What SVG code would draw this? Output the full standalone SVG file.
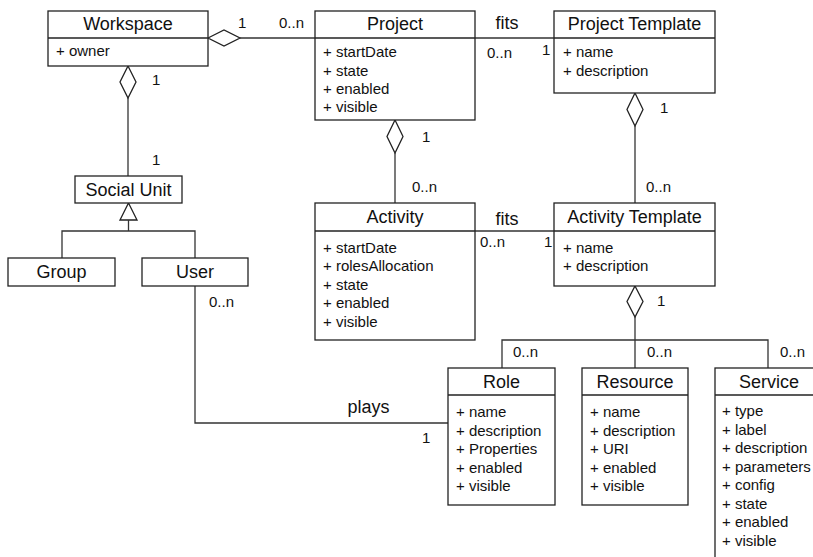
<svg xmlns="http://www.w3.org/2000/svg" width="813" height="557" viewBox="0 0 813 557">
  <style>
    .box { fill: #fff; stroke: #222; stroke-width: 1.3; }
    .div { stroke: #222; stroke-width: 1.3; }
    .ln { fill: none; stroke: #333; stroke-width: 1.3; }
    .dia { fill: #fff; stroke: #222; stroke-width: 1.3; }
    .title { font-family: "Liberation Sans", Arial, sans-serif; font-size: 18px; fill: #111; text-anchor: middle; }
    .attr { font-family: "Liberation Sans", Arial, sans-serif; font-size: 15px; fill: #111; }
    .lbl { font-family: "Liberation Sans", Arial, sans-serif; font-size: 15px; fill: #111; }
    .big { font-family: "Liberation Sans", Arial, sans-serif; font-size: 18px; fill: #111; text-anchor: middle; }
  </style>
  <rect width="813" height="557" fill="#fff"/>

  <!-- connectors -->
  <g id="connectors">
    <!-- Workspace 1 — 0..n Project -->
    <polygon class="dia" points="208,38 224,30 240,38 224,46"/>
    <line class="ln" x1="240" y1="38" x2="315" y2="38"/>
    <text class="lbl" x="238" y="28">1</text>
    <text class="lbl" x="279" y="28">0..n</text>

    <!-- Project fits Project Template -->
    <line class="ln" x1="475" y1="38" x2="554" y2="38"/>
    <text class="big" x="507" y="29">fits</text>
    <text class="lbl" x="487" y="58">0..n</text>
    <text class="lbl" x="542" y="55">1</text>

    <!-- Project 1 — 0..n Activity -->
    <polygon class="dia" points="395,120 403,136.5 395,153 387,136.5"/>
    <line class="ln" x1="395" y1="153" x2="395" y2="203"/>
    <text class="lbl" x="422" y="142">1</text>
    <text class="lbl" x="412" y="192">0..n</text>

    <!-- Project Template 1 — 0..n Activity Template -->
    <polygon class="dia" points="635,93 643,109.5 635,126 627,109.5"/>
    <line class="ln" x1="635" y1="126" x2="635" y2="203"/>
    <text class="lbl" x="660" y="113">1</text>
    <text class="lbl" x="646" y="192">0..n</text>

    <!-- Activity fits Activity Template -->
    <line class="ln" x1="475" y1="231" x2="554" y2="231"/>
    <text class="big" x="507" y="225">fits</text>
    <text class="lbl" x="480" y="247">0..n</text>
    <text class="lbl" x="544" y="247">1</text>

    <!-- Workspace 1 — 1 Social Unit -->
    <polygon class="dia" points="128,66 136,82 128,98 120,82"/>
    <line class="ln" x1="128" y1="98" x2="128" y2="176"/>
    <text class="lbl" x="152" y="85">1</text>
    <text class="lbl" x="152" y="165">1</text>

    <!-- generalization: Group, User → Social Unit -->
    <polygon class="dia" points="128.5,203 137,220 120,220"/>
    <line class="ln" x1="128.5" y1="220" x2="128.5" y2="231"/>
    <polyline class="ln" points="62,258 62,231 195,231 195,258"/>

    <!-- Activity Template 1 — 0..n Role / Resource / Service -->
    <polygon class="dia" points="635,286 643,301.5 635,317 627,301.5"/>
    <line class="ln" x1="635" y1="317" x2="635" y2="368"/>
    <polyline class="ln" points="502,368 502,340 768,340 768,368"/>
    <text class="lbl" x="657" y="306">1</text>
    <text class="lbl" x="513" y="357">0..n</text>
    <text class="lbl" x="647" y="357">0..n</text>
    <text class="lbl" x="780" y="357">0..n</text>

    <!-- User plays Role -->
    <polyline class="ln" points="195,286 195,423 448,423"/>
    <text class="lbl" x="209" y="307">0..n</text>
    <text class="big" x="368.5" y="413">plays</text>
    <text class="lbl" x="422" y="443">1</text>
  </g>

  <!-- nodes -->
  <g id="workspace">
    <rect class="box" x="48" y="11" width="160" height="55"/>
    <line class="div" x1="48" y1="38" x2="208" y2="38"/>
    <text class="title" x="128" y="30">Workspace</text>
    <text class="attr" x="56" y="56">+ owner</text>
  </g>

  <g id="project">
    <rect class="box" x="315" y="11" width="160" height="109"/>
    <line class="div" x1="315" y1="38" x2="475" y2="38"/>
    <text class="title" x="395" y="30">Project</text>
    <text class="attr" x="323" y="57">+ startDate</text>
    <text class="attr" x="323" y="75.5">+ state</text>
    <text class="attr" x="323" y="94">+ enabled</text>
    <text class="attr" x="323" y="112">+ visible</text>
  </g>

  <g id="project-template">
    <rect class="box" x="554" y="11" width="161" height="82"/>
    <line class="div" x1="554" y1="38" x2="715" y2="38"/>
    <text class="title" x="634.5" y="30">Project Template</text>
    <text class="attr" x="563" y="57">+ name</text>
    <text class="attr" x="563" y="75.5">+ description</text>
  </g>

  <g id="activity">
    <rect class="box" x="315" y="203" width="160" height="137"/>
    <line class="div" x1="315" y1="231" x2="475" y2="231"/>
    <text class="title" x="395" y="223">Activity</text>
    <text class="attr" x="323" y="252.5">+ startDate</text>
    <text class="attr" x="323" y="271">+ rolesAllocation</text>
    <text class="attr" x="323" y="289.5">+ state</text>
    <text class="attr" x="323" y="308">+ enabled</text>
    <text class="attr" x="323" y="326.5">+ visible</text>
  </g>

  <g id="activity-template">
    <rect class="box" x="554" y="203" width="161" height="83"/>
    <line class="div" x1="554" y1="231" x2="715" y2="231"/>
    <text class="title" x="634.5" y="223">Activity Template</text>
    <text class="attr" x="563" y="252.5">+ name</text>
    <text class="attr" x="563" y="271">+ description</text>
  </g>

  <g id="social-unit">
    <rect class="box" x="75" y="176" width="107" height="27"/>
    <text class="title" x="128.5" y="196">Social Unit</text>
  </g>

  <g id="group">
    <rect class="box" x="8" y="258" width="107" height="28"/>
    <text class="title" x="61.5" y="278">Group</text>
  </g>

  <g id="user">
    <rect class="box" x="142" y="258" width="106" height="28"/>
    <text class="title" x="195" y="278">User</text>
  </g>

  <g id="role">
    <rect class="box" x="448" y="368" width="107" height="137"/>
    <line class="div" x1="448" y1="395" x2="555" y2="395"/>
    <text class="title" x="501.5" y="388">Role</text>
    <text class="attr" x="456" y="417">+ name</text>
    <text class="attr" x="456" y="435.5">+ description</text>
    <text class="attr" x="456" y="454">+ Properties</text>
    <text class="attr" x="456" y="472.5">+ enabled</text>
    <text class="attr" x="456" y="491">+ visible</text>
  </g>

  <g id="resource">
    <rect class="box" x="582" y="368" width="106" height="137"/>
    <line class="div" x1="582" y1="395" x2="688" y2="395"/>
    <text class="title" x="635" y="388">Resource</text>
    <text class="attr" x="590" y="417">+ name</text>
    <text class="attr" x="590" y="435.5">+ description</text>
    <text class="attr" x="590" y="454">+ URI</text>
    <text class="attr" x="590" y="472.5">+ enabled</text>
    <text class="attr" x="590" y="491">+ visible</text>
  </g>

  <g id="service">
    <rect class="box" x="715" y="368" width="110" height="200"/>
    <line class="div" x1="715" y1="395" x2="825" y2="395"/>
    <text class="title" x="769" y="388">Service</text>
    <text class="attr" x="722" y="416">+ type</text>
    <text class="attr" x="722" y="434.5">+ label</text>
    <text class="attr" x="722" y="453">+ description</text>
    <text class="attr" x="722" y="471.5">+ parameters</text>
    <text class="attr" x="722" y="490">+ config</text>
    <text class="attr" x="722" y="508.5">+ state</text>
    <text class="attr" x="722" y="527">+ enabled</text>
    <text class="attr" x="722" y="545.5">+ visible</text>
  </g>
</svg>
